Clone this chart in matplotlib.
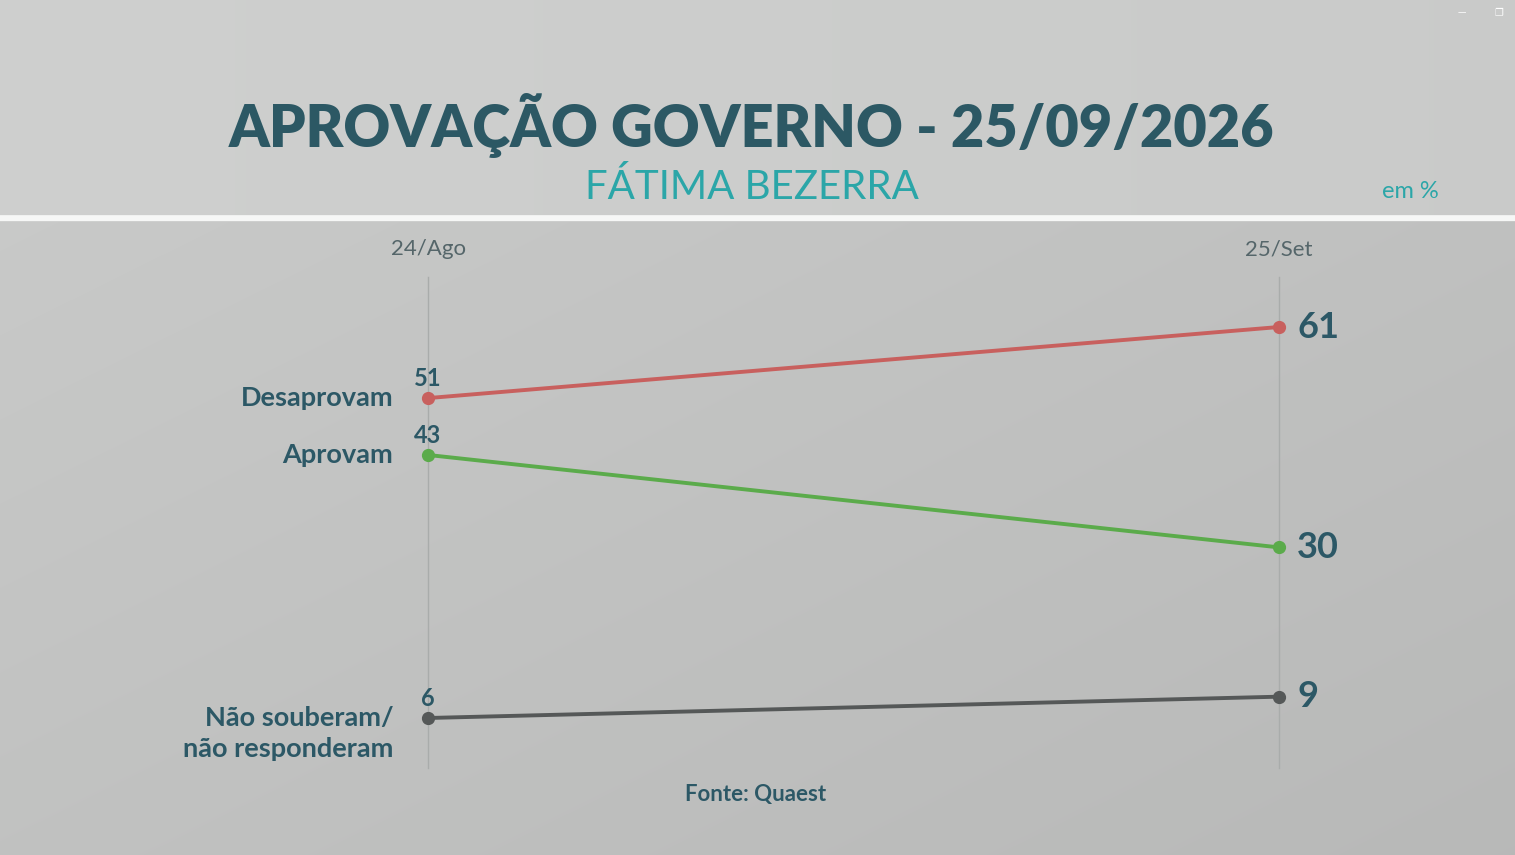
import numpy as np
import matplotlib.pyplot as plt

datas = ["24/Ago", "25/Set"]
categorias = ["Desaprovam", "Aprovam", "Não souberam/\nnão responderam"]
desaprovam = [51, 61]
aprovam = [43, 30]
nao_sabem = [6, 9]
cores = ["#c8605e", "#5bab4b", "#555858"]

titulo = "APROVAÇÃO GOVERNO - 25/09/2026"
subtitulo = "FÁTIMA BEZERRA"
fonte = "Fonte: Quaest"

W, H = 1515, 855
fig = plt.figure(figsize=(W / 100, H / 100), dpi=100)

# fundo em degrade
bg = fig.add_axes([0, 0, 1, 1])
yy, xx = np.mgrid[0:H, 0:W]
val = 0.80 - 0.035 * (xx / W) - 0.04 * (yy / H)
val[yy < 216] = 0.815 - 0.02 * (xx[yy < 216] / W)
faixa = (yy >= 216) & (yy < 222)
val[faixa] = 0.97
img = np.dstack([val * 0.995, val, val * 0.995])
bg.imshow(img, extent=(0, W, H, 0), aspect="auto")
bg.set_xlim(0, W)
bg.set_ylim(H, 0)
bg.axis("off")

# eixos dos dados
x0, x1 = 428, 1279
ytop, ybot = 327, 718
ax = fig.add_axes([x0 / W, 1 - ybot / H, (x1 - x0) / W, (ybot - ytop) / H])
ax.set_xlim(0, 1)
ax.set_ylim(6, 61)
ax.axis("off")
ax.patch.set_alpha(0)

for xi in [0, 1]:
    ax.plot([xi, xi], [-1, 68], color="#a9acab", lw=1, clip_on=False, zorder=1)

teal = "#2c5866"
series = [desaprovam, aprovam, nao_sabem]
for s, cat, cor in zip(series, categorias, cores):
    ax.plot([0, 1], s, color=cor, lw=2.8, marker="o", ms=8.5, clip_on=False, zorder=3)
    ax.annotate(str(s[0]), (0, s[0]), xytext=(0, 6), textcoords="offset points",
                ha="center", va="bottom", fontsize=17, fontweight="bold", color=teal,
                family="Lato")
    ax.annotate(str(s[1]), (1, s[1]), xytext=(13, 0), textcoords="offset points",
                ha="left", va="center", fontsize=26, fontweight="bold", color=teal,
                family="Lato")
    dy = -11.5 if "\n" in cat else 0
    ax.annotate(cat, (0, s[0]), xytext=(-25, dy), textcoords="offset points",
                ha="right", va="center", fontsize=19.5, fontweight="bold", color=teal,
                family="Lato", linespacing=1.35, multialignment="right")

for xi, d in zip([0, 1], datas):
    ax.annotate(d, (xi, 61), xytext=(0, 56), textcoords="offset points", ha="center",
                va="center", fontsize=16, color="#55666a", family="Lato")

fig.text(752 / W, 1 - 125 / H, titulo, ha="center", va="center", fontsize=41.5,
         fontweight="heavy", color="#2c5864", family="Lato")
fig.text(752 / W, 1 - 187 / H, subtitulo, ha="center", va="center", fontsize=29,
         color="#2ba6a8", family="Lato")
fig.text(1410 / W, 1 - 192 / H, "em %", ha="center", va="center", fontsize=17,
         color="#2ba6a8", family="Lato")
fig.text(756 / W, 1 - 794 / H, fonte, ha="center", va="center", fontsize=16,
         fontweight="bold", color=teal, family="Lato")
fig.text(1462 / W, 1 - 13 / H, "—", ha="center", va="center", fontsize=6, color="white")
fig.text(1499 / W, 1 - 13 / H, "❐", ha="center", va="center", fontsize=7,
         color="white", family="DejaVu Sans")

fig.savefig("out.png", dpi=100)
